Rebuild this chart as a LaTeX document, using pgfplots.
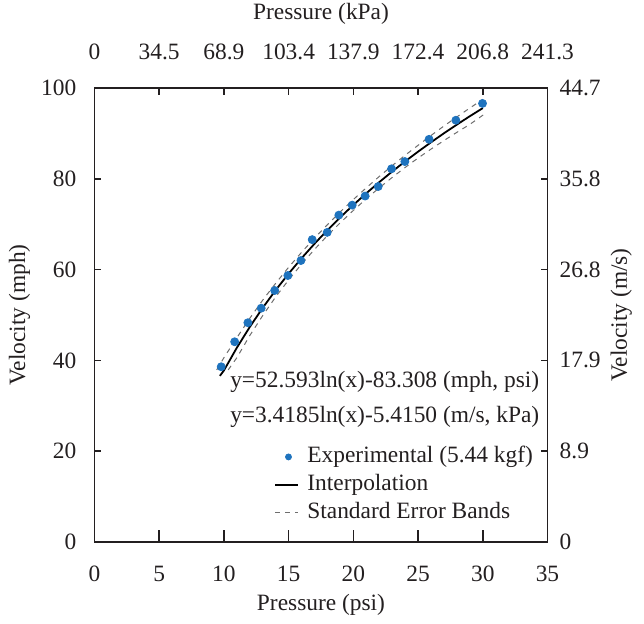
\documentclass[border=0pt]{standalone}
\usepackage{fontspec}
\setmainfont{Liberation Serif}
\usepackage{pgfplots}
\pgfplotsset{compat=1.18}
\definecolor{ptblue}{RGB}{30,115,190}
\definecolor{txt}{RGB}{35,31,32}
\definecolor{bandgray}{RGB}{110,110,110}
\newcommand{\chartfont}{\fontsize{11.7}{14}\selectfont\rmfamily}

\pgfplotsset{
  common/.style={
    width=226.5pt, height=227pt, scale only axis,
    xmin=0, xmax=35, ymin=0, ymax=100,
    /pgf/number format/assume math mode=true,
    tick style={line width=0.8pt, color=txt},
    axis line style={line width=0.8pt, color=txt},
    every tick label/.append style={font=\chartfont, color=txt},
  },
  lineleg/.style={legend image code/.code={\draw[##1] (0pt,0pt) -- (11.5pt,0pt);}},
  markleg/.style={legend image code/.code={\draw[##1, mark size=1.5pt] plot coordinates {(6.5pt,0pt)}; \path (0pt,0pt) (11.5pt,0pt);}},
}

\begin{document}
\chartfont
\begin{tikzpicture}[font=\chartfont]
% main axis: data, bottom ticks
\begin{axis}[common,
  clip mode=individual,
  xtick={0,5,...,35}, xtick pos=bottom, ytick=\empty,
  major tick length=6pt,
  xtick align=inside, tick align=inside,
  xticklabel shift=8pt,
  reverse legend,
  legend cell align=left,
  legend style={at={(0.973,0.218)}, anchor=north east, draw=none, fill=none,
    inner sep=0pt, row sep=0.5pt, column sep=3pt,
    font=\chartfont, text=txt,
    nodes={inner sep=1pt, text height=8.5pt, text depth=3pt}},
]
\addplot[bandgray, line width=0.5pt, dash pattern=on 2.5pt off 2.5pt, lineleg] table {
9.44 37.9
10 40.6
11 45.0
12 49.28
13 53.29
14 56.99
15 60.52
16 63.81
17 66.95
18 69.91
19 72.75
20 75.44
21 78.01
22 80.51
23 82.90
24 85.19
25 87.38
26 89.54
27 91.63
28 93.64
29 95.59
30 97.5
};
\addlegendentry{Standard Error Bands}
\addplot[bandgray, line width=0.5pt, dash pattern=on 2.5pt off 2.5pt, forget plot] table {
10.33 37.9
11 40.6
12 45.48
13 49.89
14 53.99
15 57.72
16 61.21
17 64.45
18 67.51
19 70.35
20 73.04
21 75.61
22 78.01
23 80.30
24 82.49
25 84.58
26 86.54
27 88.43
28 90.24
29 91.99
30.3 94.6
};
\addplot[black, line width=0.9pt, lineleg] table {
9.69 36.6
10 37.79
11 42.80
12 47.38
13 51.59
14 55.49
15 59.12
16 62.51
17 65.70
18 68.71
19 71.55
20 74.24
21 76.81
22 79.26
23 81.60
24 83.84
25 85.98
26 88.04
27 90.03
28 91.94
29 93.79
30 95.57
};
\addlegendentry{Interpolation}
\addplot[only marks, mark=*, mark size=2pt, color=ptblue, markleg] table {
9.79 38.6
10.83 44.1
11.85 48.3
12.88 51.5
13.92 55.4
14.94 58.7
15.95 62.0
16.82 66.6
17.98 68.2
18.88 72.0
19.91 74.2
20.91 76.2
21.92 78.3
22.95 82.2
23.98 83.8
25.85 88.7
27.92 92.9
29.98 96.6
};
\addlegendentry{Experimental (5.44 kgf)}
\node[anchor=west, inner sep=0pt, text=txt, font=\chartfont] at (axis cs:10.46,35.3) {y=52.593ln(x)-83.308 (mph, psi)};
\node[anchor=west, inner sep=0pt, text=txt, font=\chartfont] at (axis cs:10.46,27.6) {y=3.4185ln(x)-5.4150 (m/s, kPa)};
\node[text=txt, font=\chartfont] at (axis description cs:0.5,-0.139) {Pressure (psi)};
\node[text=txt, font=\chartfont] at (axis description cs:0.5,1.163) {Pressure (kPa)};
\node[text=txt, rotate=90, font=\chartfont] at (axis description cs:-0.1656,0.5) {Velocity (mph)};
\node[text=txt, rotate=90, font=\chartfont] at (axis description cs:1.163,0.5) {Velocity (m/s)};
\end{axis}
% top x and left y
\begin{axis}[common,
  axis x line*=top, axis y line*=left,
  xtick={0,5,...,35},
  xticklabels={0,34.5,68.9,103.4,137.9,172.4,206.8,241.3},
  ytick={0,20,...,100},
  major tick length=3.3pt,
  tick align=inside,
  xticklabel shift=10pt, yticklabel shift=5pt,
]
\end{axis}
% right y
\begin{axis}[common,
  hide x axis, axis y line*=right,
  ytick={0,20,...,100},
  yticklabels={0,8.9,17.9,26.8,35.8,44.7},
  major tick length=3.3pt,
  tick align=inside,
  yticklabel shift=2pt,
]
\end{axis}
\pgfresetboundingbox
\useasboundingbox (-47.25pt,-40.5pt) rectangle (274.75pt,271pt);
\end{tikzpicture}
\end{document}
